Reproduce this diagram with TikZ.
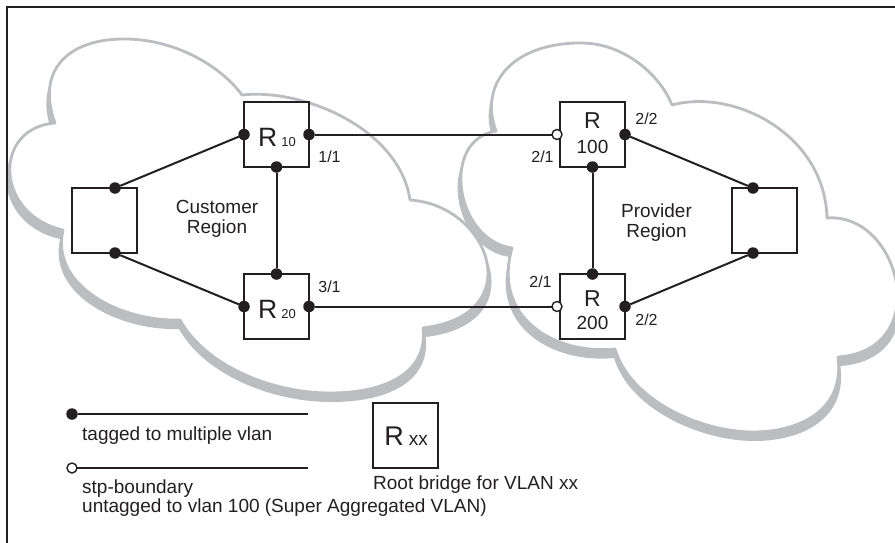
\documentclass[tikz,border=0pt]{standalone}
\usepackage{fontspec}
\setmainfont{Liberation Sans}
\definecolor{ink}{HTML}{231F20}
\definecolor{cloudgray}{HTML}{BBBDC0}
\tikzset{
  leftcloud/.style={insert path={
    (55,123) .. controls (36,72) and (66,38) .. (127,39)
    .. controls (175,40) and (220,65) .. (242,95)
    .. controls (305,88) and (400,130) .. (410,200)
    .. controls (490,205) and (530,315) .. (423,328)
    .. controls (428,370) and (390,393) .. (330,393)
    .. controls (270,393) and (205,365) .. (180,320)
    .. controls (120,322) and (50,285) .. (63,230)
    .. controls (-5,215) and (-8,128) .. (55,123)
    -- cycle}},
  rightcloud/.style={insert path={
    (496,131) .. controls (478,82) and (515,42) .. (583,43)
    .. controls (625,44) and (660,75) .. (672,105)
    .. controls (735,88) and (825,135) .. (827,218)
    .. controls (900,212) and (935,350) .. (838,357)
    .. controls (845,410) and (800,432) .. (753,432)
    .. controls (700,432) and (630,400) .. (615,349)
    .. controls (555,355) and (492,318) .. (512,248)
    .. controls (455,240) and (440,140) .. (496,131)
    -- cycle}},
  cloudline/.style={draw=cloudgray, line width=2.8pt, line join=round},
  box/.style={draw=ink, line width=2pt, fill=white, minimum width=65pt, minimum height=65pt, inner sep=0pt, outer sep=0pt},
  dot/.style={circle, fill=ink, inner sep=0pt, outer sep=0pt, minimum size=11.5pt},
  odot/.style={circle, draw=ink, fill=white, line width=1.4pt, inner sep=0pt, outer sep=0pt, minimum size=10pt},
  wire/.style={draw=ink, line width=2pt},
  lbl/.style={text=ink, inner sep=0pt, anchor=base, font=\fontsize{16}{18}\selectfont},
  region/.style={text=ink, inner sep=0pt, align=center, font=\fontsize{19}{20}\selectfont},
  legend/.style={text=ink, inner sep=0pt, anchor=base west, font=\fontsize{19}{19}\selectfont},
}
\begin{document}
\begin{tikzpicture}[x=1pt,y=-1pt]
\useasboundingbox (0,0) rectangle (895,542);
% clouds
\begin{scope}[shift={(250,9)}, xscale=1.015, shift={(-250,0)}]
  \fill[cloudgray, leftcloud];
\end{scope}
\fill[white, leftcloud];
\begin{scope}[shift={(678,9)}, xscale=1.015, shift={(-678,0)}]
  \fill[cloudgray, rightcloud];
\end{scope}
\fill[white, rightcloud];
\path[cloudline, leftcloud];
\path[cloudline, rightcloud];
% frame
\draw[ink, line width=2.5pt] (7,545) -- (7,7) -- (898,7);
% boxes
\node[box] (lb) at (104.5,220.5) {};
\node[box] (r10) at (276.5,134.5) {};
\node[box] (r20) at (276.5,306.5) {};
\node[box] (r100) at (592.5,134.5) {};
\node[box] (r200) at (592.5,306.5) {};
\node[box] (rb) at (764.5,220.5) {};
\node[box] (rxx) at (405.5,435.5) {};
% ports
\node[dot] (lbt) at (115,188) {};
\node[dot] (lbb) at (115,253) {};
\node[dot] (r10w) at (r10.west) {};
\node[dot] (r10e) at (r10.east) {};
\node[dot] (r10s) at (r10.south) {};
\node[dot] (r20n) at (r20.north) {};
\node[dot] (r20w) at (r20.west) {};
\node[dot] (r20e) at (r20.east) {};
\node[odot] (r100w) at (557,134.5) {};
\node[dot] (r100e) at (r100.east) {};
\node[dot] (r100s) at (r100.south) {};
\node[dot] (r200n) at (r200.north) {};
\node[odot] (r200w) at (557,306.5) {};
\node[dot] (r200e) at (r200.east) {};
\node[dot] (rbt) at (753,188) {};
\node[dot] (rbb) at (753,253) {};
% links
\draw[wire] (lbt) -- (r10w);
\draw[wire] (lbb) -- (r20w);
\draw[wire] (r10s) -- (r20n);
\draw[wire] (r10e) -- (r100w);
\draw[wire] (r20e) -- (r200w);
\draw[wire] (r100s) -- (r200n);
\draw[wire] (r100e) -- (rbt);
\draw[wire] (r200e) -- (rbb);
% box texts
\node[text=ink, inner sep=0pt, anchor=base] (t10) at (277,146) {\fontsize{26.5}{30}\selectfont R\hspace{4pt}\fontsize{13}{15}\selectfont 10};
\node[text=ink, inner sep=0pt, anchor=base] (t20) at (277,318) {\fontsize{26.5}{30}\selectfont R\hspace{4pt}\fontsize{13}{15}\selectfont 20};
\node[text=ink, inner sep=0pt, anchor=base, font=\fontsize{23}{25}\selectfont] (t100a) at (592.5,128) {R};
\node[text=ink, inner sep=0pt, anchor=base, font=\fontsize{19}{20}\selectfont] (t100b) at (592.5,153) {100};
\node[text=ink, inner sep=0pt, anchor=base, font=\fontsize{23}{25}\selectfont] (t200a) at (592.5,306) {R};
\node[text=ink, inner sep=0pt, anchor=base, font=\fontsize{19}{20}\selectfont] (t200b) at (592.5,329) {200};
\node[text=ink, inner sep=0pt, anchor=base] (txx) at (406,445) {\fontsize{27}{30}\selectfont R\hspace{5pt}\fontsize{19}{20}\selectfont xx};
% port labels
\node[lbl] (p11) at (329.5,162) {1/1};
\node[lbl] (p31) at (329.5,292) {3/1};
\node[lbl] (p22a) at (646.5,124) {2/2};
\node[lbl] (p21a) at (542.5,162) {2/1};
\node[lbl] (p21b) at (540.5,287) {2/1};
\node[lbl] (p22b) at (646.5,325) {2/2};
% region labels
\node[region] (cust) at (217,218.5) {Customer\\Region};
\node[region] (prov) at (656.5,222.5) {Provider\\Region};
% legend
\node[dot] (lgd) at (72,414) {};
\coordinate (lgde) at (308,414);
\draw[wire] (lgd) -- (lgde);
\node[odot] (lgo) at (72,468) {};
\coordinate (lgoe) at (308,468);
\draw[wire] (lgo) -- (lgoe);
\node[legend] (lg1) at (82,440) {tagged to multiple vlan};
\node[legend] (lg2) at (82,493) {stp-boundary};
\node[legend] (lg3) at (82,512) {untagged to vlan 100 (Super Aggregated VLAN)};
\node[legend] (lg4) at (373,489) {Root bridge for VLAN xx};
\end{tikzpicture}
\end{document}
